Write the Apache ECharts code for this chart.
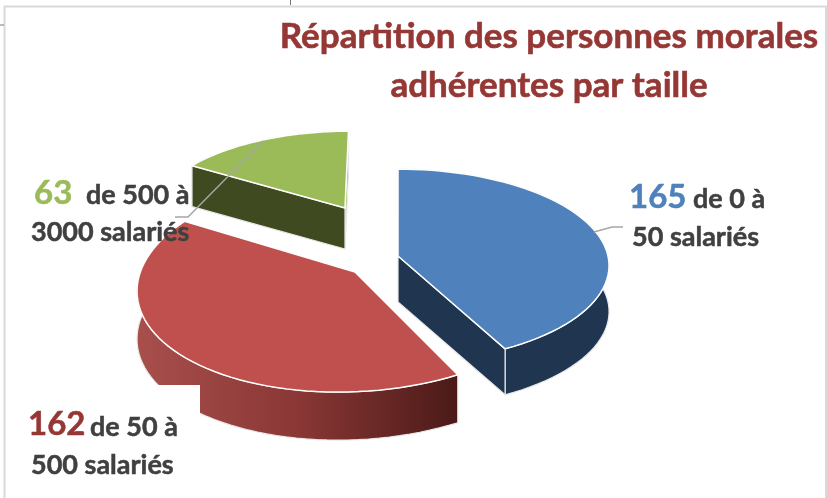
<!DOCTYPE html>
<html>
<head>
<meta charset="utf-8">
<style>html,body{margin:0;padding:0;background:#fff}#chart{width:827px;height:498px}</style>
<script src="https://cdn.jsdelivr.net/npm/echarts@6/dist/echarts.min.js"></script>
</head>
<body>
<div id="chart"></div>
<script>
var categories = ['de 0 à 50 salariés', 'de 50 à 500 salariés', 'de 500 à 3000 salariés'];
var values = [165, 162, 63];
var labelFirst = ['de 0 à', 'de 50 à', 'de 500 à'];
var labelSecond = ['50 salariés', '500 salariés', '3000 salariés'];

var total = values.reduce(function (a, b) { return a + b; }, 0);

// look of each slice, apex = where the tip of the slice ends up after the explode
var apex = [[398, 256], [355, 272], [345, 208]];
var radius = [210, 216, 192];
var tilt = [0.455, 0.5, 0.44];
var skewX = [0, -0.035, -0.02];
var skewY = [0, -0.02, 0];
var depth = [46, 48, 41];
var topColor = ['#4f81bd', '#c0504d', '#9bbb59'];
var numColor = ['#4f81bd', '#953735', '#9bbb59'];
var sideColor = [
    '#1f3550',
    new echarts.graphic.LinearGradient(0, 0, 1, 0, [
        { offset: 0, color: '#a84f4c' },
        { offset: 0.5, color: '#8a3735' },
        { offset: 1, color: '#4a1a18' }
    ]),
    '#404a20'
];
var numPos = [[629, 197], [28, 424], [34, 193]];
var firstPos = [[693, 199], [90, 427], [86, 195]];
var secondPos = [[632, 237], [31, 465], [31, 232]];
var PERSP = 0.1;

function project(i, angle, drop) {
    var px = Math.sin(angle), py = -Math.cos(angle);
    var s = 1 / (1 - PERSP * py);
    return [
        apex[i][0] + radius[i] * (px + skewX[i] * py) * s,
        apex[i][1] + radius[i] * (py * tilt[i] + skewY[i] * px) * s + (drop || 0)
    ];
}

function arcPoints(i, a0, a1, drop) {
    var pts = [], n = 60;
    for (var k = 0; k <= n; k++) {
        pts.push(project(i, a0 + (a1 - a0) * k / n, drop));
    }
    return pts;
}

function renderSlice(params, api) {
    var i = params.dataIndex;
    var before = 0;
    for (var j = 0; j < i; j++) before += values[j];
    var a0 = before / total * Math.PI * 2;
    var a1 = (before + api.value(0)) / total * Math.PI * 2;
    var d = depth[i];
    var tip = apex[i];
    var tipLow = [tip[0], tip[1] + d];
    var edge = { stroke: '#e8e8e8', lineWidth: 1.2, lineJoin: 'round' };
    var children = [];

    var rim = arcPoints(i, a0, a1);
    var rimLow = arcPoints(i, a0, a1, d).reverse();
    children.push({
        type: 'polygon',
        shape: { points: rim.concat(rimLow) },
        style: Object.assign({ fill: sideColor[i] }, edge)
    });

    function wall(angle, color) {
        children.push({
            type: 'polygon',
            shape: { points: [tip, project(i, angle), project(i, angle, d), tipLow] },
            style: Object.assign({ fill: color }, edge)
        });
    }
    // the red slice shows no cut face, the green one only a thin light edge
    if (i === 0) {
        wall(a1, sideColor[0]);
    }
    if (i === 2) {
        wall(a1, topColor[2]);
        wall(a0, sideColor[2]);
    }

    children.push({
        type: 'polygon',
        shape: { points: [tip].concat(rim) },
        style: { fill: topColor[i], stroke: '#fff', lineWidth: 1.5, lineJoin: 'round' }
    });
    return { type: 'group', children: children };
}

function renderLabel(params, api) {
    var i = params.dataIndex;
    function line(pos, text, color, size) {
        return {
            type: 'text',
            style: {
                x: pos[0], y: pos[1], text: text, fill: color,
                stroke: color, lineWidth: 0.5,
                font: 'bold ' + size + 'px Lato', verticalAlign: 'middle'
            }
        };
    }
    return {
        type: 'group',
        children: [
            line(numPos[i], String(api.value(0)), numColor[i], 33),
            line(firstPos[i], labelFirst[i], '#404040', 27),
            line(secondPos[i], labelSecond[i], '#404040', 27)
        ]
    };
}

var chart = echarts.init(document.getElementById('chart'), null, { renderer: 'canvas' });

chart.setOption({
    animation: false,
    backgroundColor: '#fff',
    title: {
        text: 'Répartition des personnes morales\nadhérentes par taille',
        left: 544,
        top: 7,
        textAlign: 'center',
        textStyle: {
            color: '#953735', fontFamily: 'Lato', fontWeight: 'bold', fontSize: 35, lineHeight: 49,
            textBorderColor: '#953735', textBorderWidth: 0.6
        }
    },
    graphic: [
        // chart frame and the white box behind the bottom label
        { type: 'rect', z: 10, shape: { x: 6, y: 385, width: 194, height: 113 }, style: { fill: '#fff' } },
        { type: 'polyline', z: 11, shape: { points: [[4.5, 498], [4.5, 6.5], [826, 6.5], [826, 498]] }, style: { fill: 'none', stroke: '#d9d9d9', lineWidth: 2 } },
        { type: 'line', z: 11, shape: { x1: 290.5, y1: 0, x2: 290.5, y2: 5 }, style: { stroke: '#777', lineWidth: 1 } },
        { type: 'line', z: 11, shape: { x1: 0, y1: 25, x2: 4, y2: 25 }, style: { stroke: '#777', lineWidth: 1 } },
        // leader lines
        { type: 'polyline', z: 11, shape: { points: [[263, 141], [188, 217], [175, 217]] }, style: { fill: 'none', stroke: '#a6a6a6', lineWidth: 1.5 } },
        { type: 'polyline', z: 11, shape: { points: [[594, 232], [612, 227], [623, 227]] }, style: { fill: 'none', stroke: '#a6a6a6', lineWidth: 1.5 } }
    ],
    series: [
        {
            type: 'custom',
            name: 'Personnes morales',
            coordinateSystem: 'none',
            z: 2,
            data: values.map(function (v, i) { return { name: categories[i], value: [v] }; }),
            renderItem: renderSlice
        },
        {
            type: 'custom',
            coordinateSystem: 'none',
            z: 20,
            silent: true,
            data: values.map(function (v) { return [v]; }),
            renderItem: renderLabel
        }
    ]
});
</script>
</body>
</html>
